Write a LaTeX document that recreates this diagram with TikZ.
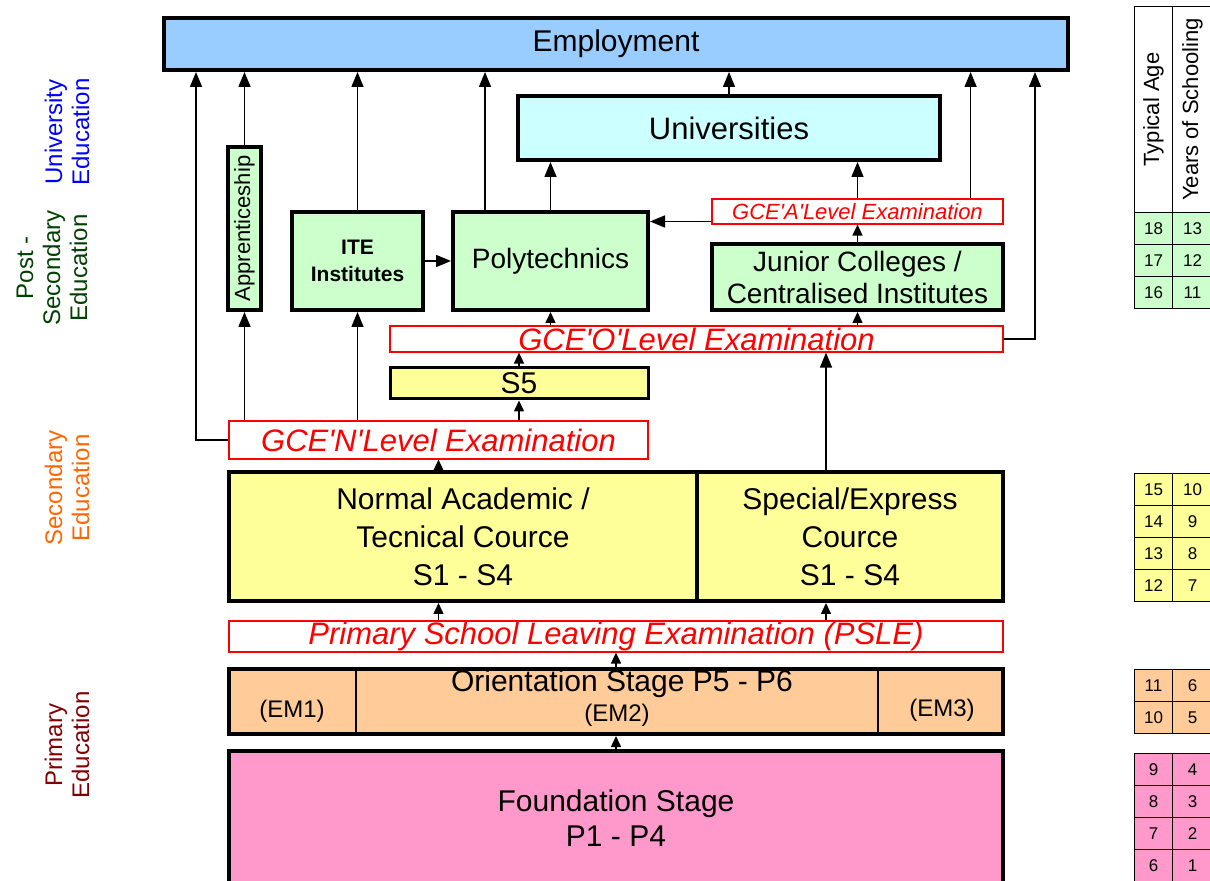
\documentclass[tikz,border=0pt]{standalone}
\usepackage{fontspec}
\setmainfont{Liberation Sans}[Ligatures=TeXOff]
\usepackage{xcolor}
\definecolor{empblue}{RGB}{153,204,255}
\definecolor{unicyan}{RGB}{204,255,255}
\definecolor{postgreen}{RGB}{204,255,204}
\definecolor{secyellow}{RGB}{255,255,153}
\definecolor{oriorange}{RGB}{255,204,153}
\definecolor{fndpink}{RGB}{255,153,204}
\definecolor{examred}{RGB}{255,0,0}
\definecolor{labblue}{RGB}{0,0,255}
\definecolor{labgreen}{RGB}{0,64,0}
\definecolor{laborange}{RGB}{255,102,0}
\definecolor{labred}{RGB}{128,0,0}
\usetikzlibrary{arrows.meta, positioning, calc}

\tikzset{
  stage/.style={draw, line width=2pt, inner sep=0pt, align=center, font=\fontsize{15}{19}\selectfont},
  exam/.style={draw=examred, line width=0.6pt, fill=white, inner sep=0pt, text=examred, font=\fontsize{15.5}{18}\selectfont\itshape},
  flow/.style={line width=0.75pt, -{Triangle[length=7.5pt,width=6pt]}},
  flowsm/.style={line width=0.75pt, -{Triangle[length=5.5pt,width=5pt]}},
  sidelabel/.style={rotate=90, align=center, font=\fontsize{12}{13.5}\selectfont},
  agecell/.style={draw, line width=0.5pt, inner sep=0pt, minimum width=19pt, minimum height=16pt, anchor=north west, font=\fontsize{8.5}{10}\selectfont},
  headcell/.style={draw, line width=0.5pt, fill=white, inner sep=0pt, minimum width=19pt, minimum height=103pt, anchor=north west, font=\fontsize{11}{12}\selectfont}
}

\begin{document}
\begin{tikzpicture}[x=0.5pt, y=-0.5pt]
  \useasboundingbox (0,0) rectangle (1210,881);

  % --- Side labels ---
  \node[sidelabel, labblue] (lbuni) at (67,132) {University\\Education};
  \node[sidelabel, labgreen] (lbpost) at (52,268) {Post -\\Secondary\\Education};
  \node[sidelabel, laborange] (lbsec) at (67,488) {Secondary\\Education};
  \node[sidelabel, labred] (lbpri) at (67,745) {Primary\\Education};

  % --- Top level ---
  \node[stage, fill=empblue, minimum width=452pt, minimum height=26pt] (emp) at (616,44) {Employment};
  \node[stage, fill=unicyan, minimum width=211pt, minimum height=32pt, font=\fontsize{15.5}{18}\selectfont] (uni) at (729,128) {Universities};

  % --- Post-secondary ---
  \node[stage, fill=postgreen, minimum width=16.5pt, minimum height=81.5pt, font=\fontsize{11}{12}\selectfont] (appr) at (244.5,228.5) {\rotatebox{90}{Apprenticeship}};
  \node[stage, fill=postgreen, minimum width=65.5pt, minimum height=49pt, font=\fontsize{10.5}{13.5}\selectfont\bfseries] (ite) at (357.5,261) {ITE\\Institutes};
  \node[stage, fill=postgreen, minimum width=97.5pt, minimum height=49pt, font=\fontsize{14}{16}\selectfont] (poly) at (550.5,261) {Polytechnics};
  \node[stage, fill=postgreen, minimum width=145.5pt, minimum height=33pt, font=\fontsize{14}{16}\selectfont] (jc) at (857.5,277) {Junior Colleges /\\Centralised Institutes};
  \node[exam, minimum width=145.5pt, minimum height=12.5pt, font=\fontsize{11}{12}\selectfont\itshape] (aexam) at (857.5,211.5) {GCE'A'Level Examination};

  % --- Secondary ---
  \node[exam, minimum width=306.5pt, minimum height=13pt] (oexam) at (696.5,339) {GCE'O'Level Examination};
  \node[stage, fill=secyellow, line width=1.5pt, minimum width=129pt, minimum height=15.5pt] (s5) at (519,383.5) {S5};
  \node[exam, minimum width=209.5pt, minimum height=19pt] (nexam) at (438.5,440) {GCE'N'Level Examination};
  \node[stage, fill=secyellow, minimum width=234pt, minimum height=64.5pt] (nac) at (463,536.5) {Normal Academic /\\Tecnical Cource\\S1 - S4};
  \node[stage, fill=secyellow, minimum width=153pt, minimum height=64.5pt] (sec) at (850,536.5) {Special/Express\\Cource\\S1 - S4};

  % --- Primary ---
  \node[exam, minimum width=387pt, minimum height=15.5pt] (psle) at (616,636.5) {Primary School Leaving Examination (PSLE)};
  \node[stage, fill=oriorange, minimum width=387pt, minimum height=32.5pt] (orient) at (616,701.5) {};
  \draw[line width=0.6pt] ([xshift=64.5pt]orient.north west) -- ([xshift=64.5pt]orient.south west);
  \draw[line width=0.6pt] ([xshift=-63.5pt]orient.north east) -- ([xshift=-63.5pt]orient.south east);
  \node[font=\fontsize{15}{17}\selectfont, inner sep=0pt] (orititle) at (622,684) {Orientation Stage P5 - P6};
  \node[font=\fontsize{12}{14}\selectfont, inner sep=0pt] (em1) at (292,711) {(EM1)};
  \node[font=\fontsize{12}{14}\selectfont, inner sep=0pt] (em2) at (617,715) {(EM2)};
  \node[font=\fontsize{12}{14}\selectfont, inner sep=0pt] (em3) at (942,710) {(EM3)};
  \node[stage, fill=fndpink, minimum width=387pt, minimum height=67pt, font=\fontsize{15}{17.5}\selectfont] (found) at (616,818) {Foundation Stage\\P1 - P4};

  % --- Connectors ---
  \coordinate (nleft) at (196,440);
  \coordinate (oright) at (1035,339);
  \coordinate (apoly) at ([yshift=-5pt]aexam.west);
  \coordinate (secup) at ([xshift=-12pt]sec.north);
  \coordinate (polyup) at ([xshift=17pt]poly.north west);
  \coordinate (aup) at ([xshift=-16.5pt]aexam.north east);

  \draw[flow] (nexam.west) -- (nleft) -- (nleft |- emp.south);
  \draw[flow] (appr.south |- nexam.north) -- (appr.south);
  \draw[flow] (appr.north) -- (appr.north |- emp.south);
  \draw[flow] (ite.south |- nexam.north) -- (ite.south);
  \draw[flow] (ite.north) -- (ite.north |- emp.south);
  \draw[flow] (ite.east) -- (poly.west);
  \draw[flow] (polyup) -- (polyup |- emp.south);
  \draw[flow] (poly.north) -- (poly.north |- uni.south);
  \draw[flow] (uni.north) -- (uni.north |- emp.south);
  \draw[flow] (apoly) -- (apoly -| poly.east);
  \draw[flow] (aexam.north) -- (aexam.north |- uni.south);
  \draw[flow] (aup) -- (aup |- emp.south);
  \draw[flowsm] (jc.north) -- (aexam.south);
  \draw[flowsm] (poly.south |- oexam.north) -- (poly.south);
  \draw[flowsm] (jc.south |- oexam.north) -- (jc.south);
  \draw[flow] (oexam.east) -- (oright) -- (oright |- emp.south);
  \draw[flowsm] (s5.north) -- (s5.north |- oexam.south);
  \draw[flowsm] (s5.south |- nexam.north) -- (s5.south);
  \draw[flow] (secup) -- (secup |- oexam.south);
  \draw[flowsm] (nexam.south |- nac.north) -- (nexam.south);
  \draw[flowsm] (nexam.south |- psle.north) -- (nexam.south |- nac.south);
  \draw[flowsm] (secup |- psle.north) -- (secup |- sec.south);
  \draw[flowsm] (orient.north) -- (psle.south);
  \draw[flowsm] (found.north) -- (orient.south);

  % --- Age table ---
  \node[headcell] (agehead) at (1134,6) {\rotatebox{90}{Typical Age}};
  \node[headcell, minimum width=20pt] (yrshead) at (1172,6) {\rotatebox{90}{Years of Schooling}};
  \foreach \yt/\age/\yrs/\col [count=\i] in {212/18/13/postgreen, 244/17/12/postgreen, 276/16/11/postgreen,
      473/15/10/secyellow, 505/14/9/secyellow, 537/13/8/secyellow, 569/12/7/secyellow,
      669/11/6/oriorange, 701/10/5/oriorange,
      753/9/4/fndpink, 785/8/3/fndpink, 817/7/2/fndpink, 849/6/1/fndpink} {
    \node[agecell, fill=\col] (age\i) at (1134,\yt) {\age};
    \node[agecell, fill=\col, minimum width=20pt] (yrs\i) at (1172,\yt) {\yrs};
  }
\end{tikzpicture}
\end{document}
